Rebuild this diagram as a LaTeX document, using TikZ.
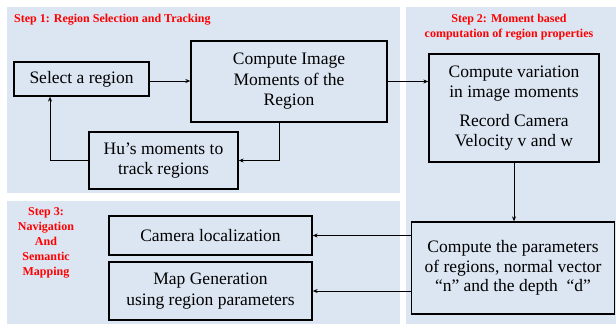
\documentclass[tikz,border=0pt]{standalone}
\usepackage{fontspec}
\setmainfont{Liberation Serif}
\usepackage{tikz}
\usetikzlibrary{arrows.meta, positioning}
\usepackage{xcolor}
\definecolor{panelblue}{RGB}{220,230,242}

\begin{document}
\begin{tikzpicture}[x=1pt, y=-1pt,
    procbox/.style={draw, line width=1.3pt, align=center, inner sep=0pt,
          font=\fontsize{17.5}{20.5}\selectfont},
    flow/.style={-{Stealth[length=5pt, width=4pt]}, line width=0.9pt},
    steplabel/.style={text=red, inner sep=0pt, align=center,
          font=\fontsize{12}{15}\selectfont\bfseries}]

    \useasboundingbox (0,0) rectangle (616,324);
    % panels
    \fill[panelblue] (7,7) rectangle (400,193);
    \fill[panelblue] (406,7) rectangle (616,324);
    \fill[panelblue] (7,201) rectangle (400,324);

    % step 1
    \node[procbox, minimum width=135pt, minimum height=34pt] (sel)
          at (81.5,79) {Select a region};
    \node[procbox, minimum width=196pt, minimum height=81pt] (cim)
          at (289,81.5) {Compute Image\\Moments of the\\Region};
    \node[procbox, minimum width=149pt, minimum height=57pt] (hu)
          at (163.5,160.5) {Hu’s moments to\\track regions};
    % step 2
    \node[procbox, minimum width=170pt, minimum height=108pt] (var)
          at (514,108) {Compute variation\\in image moments\\[8pt]Record Camera\\Velocity v and w};
    \node[procbox, minimum width=203pt, minimum height=92pt,
          font=\fontsize{17.5}{19.5}\selectfont] (par)
          at (513,268) {Compute the parameters\\of regions, normal vector\\“n” and the depth \ “d”};
    % step 3
    \node[procbox, minimum width=203pt, minimum height=39pt] (cam)
          at (210.5,235.5) {Camera localization};
    \node[procbox, minimum width=203pt, minimum height=58pt] (map)
          at (210.5,291) {Map Generation\\using region parameters};

    \node[steplabel, anchor=base west] (s1) at (14,23)
          {Step 1: Region Selection and Tracking};
    \node[steplabel] (s2) at (509,27)
          {Step 2: Moment based\\computation of region properties};
    \node[steplabel] (s3) at (46,243)
          {Step 3:\\Navigation\\And\\Semantic\\Mapping};

    \draw[flow] ([yshift=-2pt]sel.east) -- ([yshift=-2pt]cim.west |- sel.east);
    \draw[flow] (cim.east) -- (var.west |- cim.east);
    \draw[flow] ([xshift=-10pt]cim.south) |- (hu.east);
    \draw[flow] (hu.west) -| ([xshift=-31.5pt]sel.south);
    \draw[flow] (var.south) -- (var.south |- par.north);
    \draw[flow] (par.west |- cam.east) -- (cam.east);
    \draw[flow] (par.west |- map.east) -- (map.east);
\end{tikzpicture}
\end{document}
